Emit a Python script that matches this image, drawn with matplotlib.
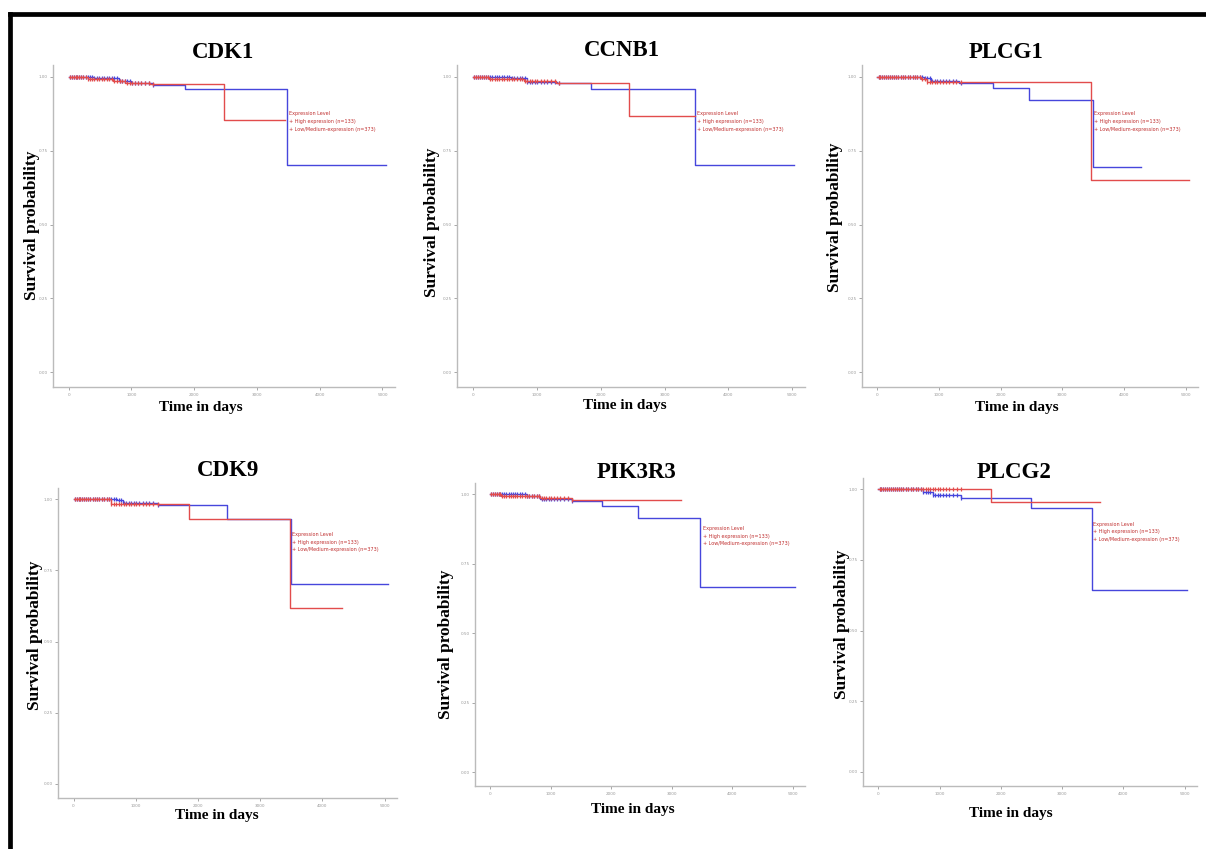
import numpy as np
import matplotlib.pyplot as plt
from matplotlib.lines import Line2D

# Kaplan-Meier steps: days where the curve changes, and survival from there on
cdk1_high_days = [0, 300, 700, 900, 1300, 2470, 3450]
cdk1_high_surv = [1.0, 0.993, 0.985, 0.978, 0.975, 0.853, 0.853]
cdk1_low_days = [0, 400, 800, 1000, 1350, 1850, 3480, 5050]
cdk1_low_surv = [1.0, 0.995, 0.985, 0.978, 0.972, 0.958, 0.70, 0.70]

ccnb1_high_days = [0, 250, 800, 1300, 2450, 3470]
ccnb1_high_surv = [1.0, 0.993, 0.985, 0.978, 0.866, 0.866]
ccnb1_low_days = [0, 600, 850, 1320, 1850, 3480, 5030]
ccnb1_low_surv = [1.0, 0.995, 0.983, 0.978, 0.959, 0.70, 0.70]

plcg1_high_days = [0, 700, 800, 3460, 5050]
plcg1_high_surv = [1.0, 0.992, 0.982, 0.652, 0.652]
plcg1_low_days = [0, 750, 870, 1320, 1870, 2460, 3490, 4270]
plcg1_low_surv = [1.0, 0.995, 0.987, 0.978, 0.962, 0.922, 0.694, 0.694]

cdk9_high_days = [0, 600, 1850, 3480, 4320]
cdk9_high_surv = [1.0, 0.982, 0.931, 0.619, 0.619]
cdk9_low_days = [0, 700, 800, 1350, 2460, 3490, 5050]
cdk9_low_surv = [1.0, 0.997, 0.988, 0.979, 0.931, 0.702, 0.702]

pik3r3_high_days = [0, 180, 830, 1350, 3150]
pik3r3_high_surv = [1.0, 0.993, 0.985, 0.979, 0.979]
pik3r3_low_days = [0, 610, 830, 1350, 1840, 2450, 3470, 5030]
pik3r3_low_surv = [1.0, 0.993, 0.983, 0.977, 0.959, 0.915, 0.666, 0.666]

plcg2_high_days = [0, 1840, 3620]
plcg2_high_surv = [1.0, 0.955, 0.955]
plcg2_low_days = [0, 730, 890, 1350, 2490, 3490, 5030]
plcg2_low_surv = [1.0, 0.99, 0.979, 0.969, 0.934, 0.642, 0.642]

# censored patients, dense in the first years
censor_days = [20, 50, 80, 110, 140, 170, 200, 235, 270, 305, 340, 375, 410,
               450, 490, 530, 570, 610, 650, 690, 730, 770, 810, 850, 890,
               930, 970, 1010, 1060, 1110, 1160, 1220, 1280, 1350]

genes = ['CDK1', 'CCNB1', 'PLCG1', 'CDK9', 'PIK3R3', 'PLCG2']
high_days = [cdk1_high_days, ccnb1_high_days, plcg1_high_days, cdk9_high_days, pik3r3_high_days, plcg2_high_days]
high_surv = [cdk1_high_surv, ccnb1_high_surv, plcg1_high_surv, cdk9_high_surv, pik3r3_high_surv, plcg2_high_surv]
low_days = [cdk1_low_days, ccnb1_low_days, plcg1_low_days, cdk9_low_days, pik3r3_low_days, plcg2_low_days]
low_surv = [cdk1_low_surv, ccnb1_low_surv, plcg1_low_surv, cdk9_low_surv, pik3r3_low_surv, plcg2_low_surv]

y_ticks = [0.0, 0.25, 0.5, 0.75, 1.0]
y_ticklabels = ['0.00', '0.25', '0.50', '0.75', '1.00']
x_ticks = [0, 1000, 2000, 3000, 4000, 5000]
legend_lines = ['Expression Level', '+ High expression (n=133)', '+ Low/Medium-expression (n=373)']

W, H = 1206, 849
# axes boxes in pixels: left, right, top, bottom
boxes = [(53, 395, 65, 387), (457, 805, 65, 387), (862, 1198, 65, 387),
         (58, 397, 488, 798), (475, 805, 483, 786), (863, 1197, 478, 786)]
title_pos = [(223, 52), (622, 50), (1006, 52), (228, 470), (637, 473), (1014, 473)]
ylab_pos = [(32, 225), (432, 222), (835, 217), (35, 635), (446, 644), (842, 624)]
xlab_pos = [(201, 407), (625, 405), (1017, 407), (217, 815), (633, 810), (1011, 813)]

RED = '#E24C4C'
BLUE = '#4646DC'
SERIF = 'Liberation Serif'

fig = plt.figure(figsize=(W / 100, H / 100), dpi=100)


def fx(x):
    return x / W


def fy(y):
    return 1 - y / H


def step_value(days, surv, t):
    i = np.searchsorted(days, t, side='right') - 1
    return surv[i]


for k, gene in enumerate(genes):
    l, r, t, b = boxes[k]
    ax = fig.add_axes([fx(l), fy(b), (r - l) / W, (b - t) / H])

    for days, surv, col in [(low_days[k], low_surv[k], BLUE), (high_days[k], high_surv[k], RED)]:
        ax.step(days, surv, where='post', color=col, lw=1.0)
        cens = [c for c in censor_days if c < days[-1]]
        ax.plot(cens, [step_value(days, surv, c) for c in cens], ls='none',
                marker='|', ms=2.2, mew=0.9, color=col)

    ax.set_xlim(-250, 5200)
    ax.set_ylim(-0.05, 1.04)
    ax.set_xticks(x_ticks)
    ax.set_yticks(y_ticks)
    ax.set_yticklabels(y_ticklabels)
    ax.tick_params(labelsize=3, colors='#999999', length=2, width=0.6, pad=2)
    for s in ['top', 'right']:
        ax.spines[s].set_visible(False)
    for s in ['left', 'bottom']:
        ax.spines[s].set_color('#BBBBBB')
        ax.spines[s].set_linewidth(1.0)

    for j, line in enumerate(legend_lines):
        ax.text(0.69, 0.85 - j * 0.025, line, transform=ax.transAxes,
                fontsize=3.5, color='#C03030', va='center', ha='left')

    fig.text(fx(title_pos[k][0]), fy(title_pos[k][1]), gene, family=SERIF,
             fontweight='bold', fontsize=16.5, ha='center', va='center')
    fig.text(fx(ylab_pos[k][0]), fy(ylab_pos[k][1]), 'Survival probability', family=SERIF,
             fontweight='bold', fontsize=12.5, rotation=90, ha='center', va='center')
    fig.text(fx(xlab_pos[k][0]), fy(xlab_pos[k][1]), 'Time in days', family=SERIF,
             fontweight='bold', fontsize=11, ha='center', va='center')

# black frame along the top and left edge
fig.add_artist(Line2D([fx(10), fx(10)], [0, fy(14)], color='black', lw=3.4))
fig.add_artist(Line2D([fx(10), 1], [fy(14), fy(14)], color='black', lw=3.4))

fig.savefig('out.png', dpi=100)
